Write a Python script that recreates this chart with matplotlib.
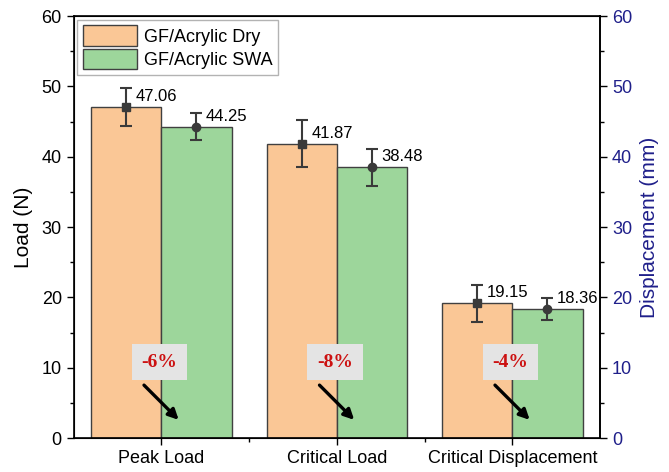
import numpy as np
import matplotlib.pyplot as plt
from matplotlib.ticker import MultipleLocator, FixedLocator

plt.rcParams['font.family'] = ['Liberation Sans', 'DejaVu Sans']

categories = ['Peak Load', 'Critical Load', 'Critical Displacement']
dry_vals = [47.06, 41.87, 19.15]
dry_err = [2.75, 3.3, 2.65]
swa_vals = [44.25, 38.48, 18.36]
swa_err = [1.9, 2.65, 1.6]
changes = ['-6%', '-8%', '-4%']
series_names = ['GF/Acrylic Dry', 'GF/Acrylic SWA']

x = np.arange(1, len(categories) + 1)
w = 0.4

fig, ax = plt.subplots(figsize=(6.69, 4.72), dpi=100)
fig.subplots_adjust(left=0.11, right=0.897, top=0.966, bottom=0.072)

ax.bar(x - w / 2, dry_vals, w, color='#fac796', edgecolor='#404040', linewidth=1,
       label=series_names[0], zorder=2)
ax.bar(x + w / 2, swa_vals, w, color='#9dd69b', edgecolor='#404040', linewidth=1,
       label=series_names[1], zorder=2)

ax.errorbar(x - w / 2, dry_vals, yerr=dry_err, fmt='s', color='#3a3a3a', ms=6,
            capsize=4, elinewidth=1.5, capthick=1.5, zorder=3)
ax.errorbar(x + w / 2, swa_vals, yerr=swa_err, fmt='o', color='#3a3a3a', ms=6,
            capsize=4, elinewidth=1.5, capthick=1.5, zorder=3)

# value labels next to the markers
for xi, v in zip(x - w / 2, dry_vals):
    ax.text(xi + 0.055, v + 1.5, f'{v:.2f}', fontsize=12, ha='left', va='center')
for xi, v in zip(x + w / 2, swa_vals):
    ax.text(xi + 0.055, v + 1.5, f'{v:.2f}', fontsize=12, ha='left', va='center')

# percentage change boxes with arrows
for xi, c in zip(x, changes):
    ax.text(xi - 0.01, 10.8, c, fontsize=14, fontweight='bold', color='#cc1111',
            family='Liberation Serif', ha='center', va='center', zorder=4,
            bbox=dict(boxstyle='square,pad=0.5', facecolor='#e4e4e4', edgecolor='none'))
    ax.annotate('', xy=(xi + 0.11, 2.3), xytext=(xi - 0.11, 7.8),
                arrowprops=dict(arrowstyle='-|>', color='black', lw=2.4,
                                mutation_scale=15), zorder=4)

ax.set_xlim(0.5, 3.5)
ax.set_ylim(0, 60)
ax.set_xticks(x)
ax.set_xticklabels(categories, fontsize=13)
ax.xaxis.set_minor_locator(FixedLocator([1.5, 2.5]))
ax.yaxis.set_major_locator(MultipleLocator(10))
ax.yaxis.set_minor_locator(MultipleLocator(5))
ax.tick_params(axis='both', which='major', direction='out', length=5, width=1, labelsize=13)
ax.tick_params(axis='both', which='minor', direction='out', length=3, width=1)
ax.set_ylabel('Load (N)', fontsize=15, labelpad=6)
for s in ax.spines.values():
    s.set_linewidth(1.2)

ax2 = ax.twinx()
ax2.set_ylim(0, 60)
ax2.yaxis.set_major_locator(MultipleLocator(10))
ax2.yaxis.set_minor_locator(MultipleLocator(5))
ax2.tick_params(axis='y', which='major', direction='out', length=5, width=1,
                labelsize=13, labelcolor='#1f1f8a')
ax2.tick_params(axis='y', which='minor', direction='out', length=3, width=1)
ax2.set_ylabel('Displacement (mm)', fontsize=15, color='#1f1f8a', labelpad=6)
ax2.spines['right'].set_linewidth(1.2)

ax.legend(loc='upper left', fontsize=13, frameon=True, fancybox=False,
          edgecolor='#a0a0a0', borderaxespad=0.2, handlelength=3.0, handleheight=1.4,
          labelspacing=0.15, borderpad=0.3, handletextpad=0.4)

fig.savefig('out.png')
